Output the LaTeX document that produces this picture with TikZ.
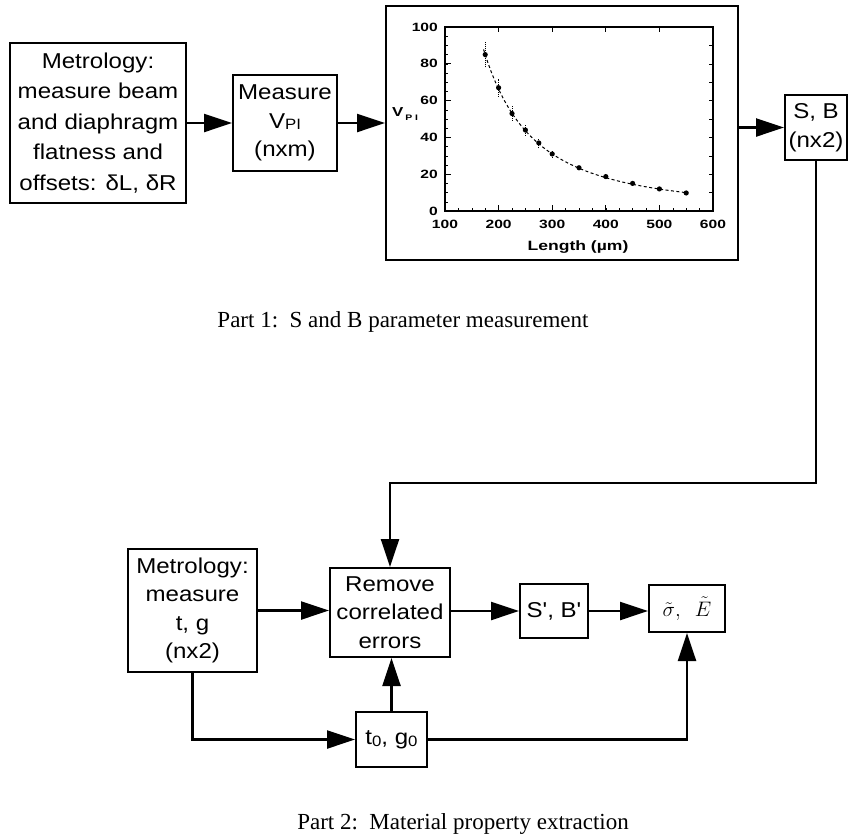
\RequirePackage{fix-cm}
\documentclass[tikz,border=0pt]{standalone}
\usepackage{fontspec}
\setmainfont{Liberation Serif}
\newfontfamily\boxfont[FakeStretch=1.12]{Liberation Sans}
\newfontfamily\plotfont[FakeStretch=1.3]{Liberation Sans}
\usetikzlibrary{arrows.meta}
\begin{document}
\begin{tikzpicture}[x=1pt,y=-1pt]
\tikzset{
  box/.style={draw, line width=2pt, inner sep=0pt, align=center,
    font=\boxfont\fontsize{21.5}{28.5}\selectfont},
  arr/.style={line width=2.4pt, -{Triangle[length=28pt,width=18pt]}},
  conn/.style={line width=2.4pt},
  ticklab/.style={inner sep=0pt, font=\plotfont\bfseries\fontsize{12}{12}\selectfont},
  caption/.style={inner sep=0pt, font=\fontsize{23}{23}\selectfont},
}
\useasboundingbox (0,0) rectangle (849,839);

% ---------- Part 1 ----------
\node[box, minimum width=176pt, minimum height=160pt,
  font=\boxfont\fontsize{21.5}{30.5}\selectfont] (A) at (98,123)
  {Metrology:\\measure beam\\and diaphragm\\flatness and\\offsets: δL, δR};
\node[box, minimum width=104pt, minimum height=96pt] (B) at (285,123)
  {Measure\\V\raisebox{-1.5pt}{\fontsize{15}{15}\selectfont PI}\\(nxm)};
\node[draw, line width=2pt, inner sep=0pt, minimum width=352pt, minimum height=254pt] (P) at (562,133) {};
\node[box, minimum width=62pt, minimum height=65pt] (SB) at (816,127.5) {S, B\\(nx2)};

\draw[arr] (A.east) -- (B.west);
\draw[arr] (B.east) -- (B.east -| P.west);
\draw[arr] (SB.west -| P.east) -- (SB.west);

% plot
\begin{scope}[shift={(391.4,211)}, x=0.536pt, y=1.84pt]
  \draw[line width=1.2pt] (100,0) rectangle (600,100);
  \foreach \L in {200,300,400,500} {
    \draw[line width=1pt] (\L,0) -- ++(0,6pt);
    \draw[line width=1pt] (\L,100) -- ++(0,-5pt);
  }
  \foreach \L in {125,150,...,575} \draw[line width=0.6pt] (\L,0) -- ++(0,3pt);
  \foreach \V in {20,40,60,80} \draw[line width=1pt] (100,\V) -- ++(6pt,0);
  \foreach \V in {5,10,...,95} \draw[line width=0.6pt] (100,\V) -- ++(3pt,0);
  \foreach \V in {10,20,...,90} \draw[line width=0.6pt] (600,\V) -- ++(-4pt,0);
  \foreach \L in {100,200,...,600} \node[ticklab, anchor=north] (xt\L) at ([yshift=-9pt]\L,0) {\L};
  \foreach \V in {0,20,...,100} \node[ticklab, anchor=east] (yt\V) at ([xshift=-7pt]100,\V) {\V};
  % fit curve
  \draw[line width=1pt, dash pattern=on 3pt off 2.5pt]
    plot[domain=172:552, samples=80, smooth] (\x,{85*(175/\x)^1.87});
  % error bars
  \foreach \L/\a/\b in {175/78/92, 200/62/72, 225/49/57, 250/41/47, 275/34/39, 300/29/33}
    \draw[line width=1pt, densely dotted] (\L,\a) -- (\L,\b);
  % data points
  \foreach \L/\V in {175/85, 200/67, 225/53, 250/44, 275/37, 300/31, 350/23.5, 400/18.7, 450/15, 500/12, 550/9.8}
    \fill (\L,\V) circle[radius=2.6pt];
\end{scope}
\node[inner sep=0pt, font=\plotfont\bfseries\fontsize{13}{13}\selectfont] (vpi) at (405,114)
  {V\,\raisebox{-4pt}{\fontsize{8}{8}\selectfont P\,\,I}};
\node[inner sep=0pt, font=\plotfont\bfseries\fontsize{13.5}{13.5}\selectfont] (xlab) at (578,247) {Length (µm)};

\node[caption] (cap1) at (403,322) {Part 1:\ \ S and B parameter measurement};

% ---------- Part 2 ----------
\node[box, minimum width=129pt, minimum height=123pt] (C) at (192.5,610.5)
  {Metrology:\\measure\\t, g\\(nx2)};
\node[box, minimum width=120pt, minimum height=89pt] (D) at (390,612.5)
  {Remove\\correlated\\errors};
\node[box, minimum width=71pt, minimum height=55pt] (E) at (391.5,739.5)
  {t\raisebox{-2pt}{\fontsize{15}{15}\selectfont 0}, g\raisebox{-2pt}{\fontsize{15}{15}\selectfont 0}};
\node[box, minimum width=68pt, minimum height=54pt] (F) at (554,611) {S', B'};
\node[box, minimum width=76pt, minimum height=47pt, font=\fontsize{21}{21}\selectfont] (G) at (687,608.5)
  {$\tilde{\sigma},\ \ \tilde{E}$};

\coordinate (bend) at (600,483);
\draw[arr] (SB.south) |- (bend -| D.north) -- (D.north);
\draw[arr] (C.east) -- (C.east -| D.west);
\draw[arr] (E.north) -- (E.north |- D.south);
\draw[arr] (C.south) |- (E.west);
\draw[arr] (F.west -| D.east) -- (F.west);
\draw[arr] (F.east) -- (F.east -| G.west);
\draw[arr] (E.east) -| (G.south);

\node[caption] (cap2) at (463,824) {Part 2:\ \ Material property extraction};
\end{tikzpicture}
\end{document}
